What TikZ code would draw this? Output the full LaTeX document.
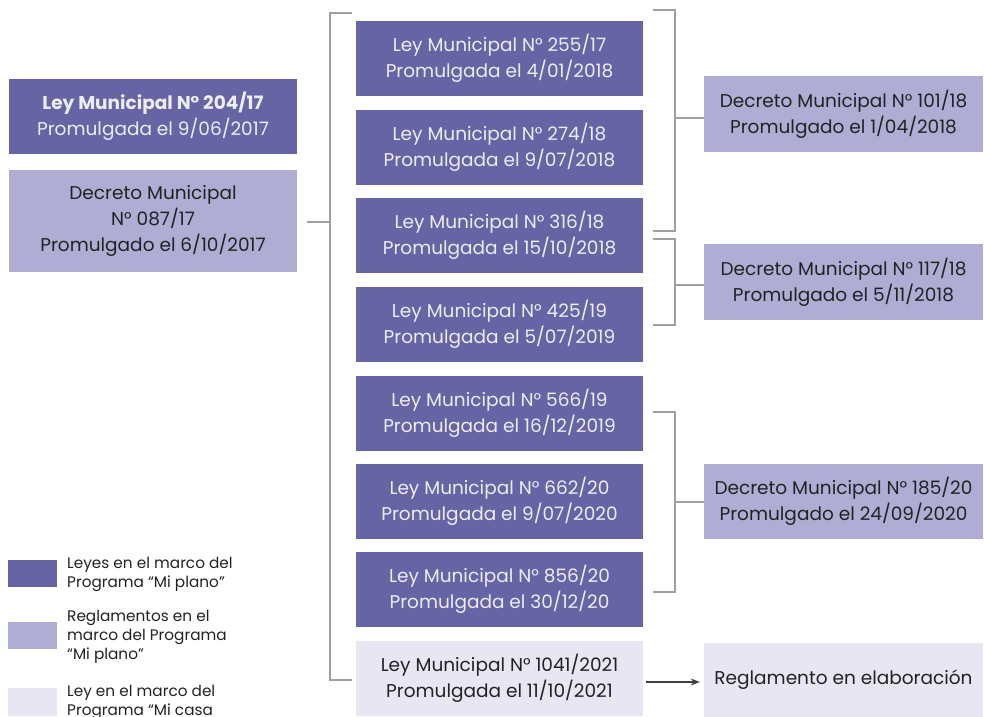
\documentclass[tikz,border=0pt]{standalone}
\usepackage{fontspec}
\setmainfont{Poppins}
\usetikzlibrary{arrows.meta}

\definecolor{leyes}{RGB}{102,100,164}
\definecolor{regla}{RGB}{175,173,212}
\definecolor{casa}{RGB}{232,230,243}
\definecolor{linea}{RGB}{160,160,160}
\definecolor{textoclaro}{RGB}{236,236,246}
\definecolor{textoosc}{RGB}{34,34,34}

\tikzset{
	caja/.style={rectangle, inner sep=0pt, align=center, font=\fontsize{18.5}{26}\selectfont},
	ley/.style={caja, fill=leyes, text=textoclaro, minimum width=287pt, minimum height=75pt},
	decreto/.style={caja, fill=regla, text=textoosc},
	enCasa/.style={caja, fill=casa, text=textoosc},
	llave/.style={draw=linea, line width=1.2pt},
	leyenda/.style={anchor=north west, inner sep=0pt, align=left, text=textoosc, font=\fontsize{15.3}{19}\selectfont}
}

\begin{document}
\begin{tikzpicture}[x=1pt, y=-1pt]
		\useasboundingbox (0,0) rectangle (984,716);
		\clip (0,0) rectangle (984,716);

		% columna izquierda
		\node [ley, minimum width=288pt] (l204) at (153,116.5) {\textbf{Ley Municipal N° 204/17}\\Promulgada el 9/06/2017};
		\node [decreto, minimum width=288pt, minimum height=102pt] (d087) at (153,221) {Decreto Municipal\\N° 087/17\\Promulgado el 6/10/2017};

		% columna central
		\node [ley] (l255) at (499.5,58.5) {Ley Municipal N° 255/17\\Promulgada el 4/01/2018};
		\node [ley] (l274) at (499.5,147.5) {Ley Municipal N° 274/18\\Promulgada el 9/07/2018};
		\node [ley] (l316) at (499.5,235.5) {Ley Municipal N° 316/18\\Promulgada el 15/10/2018};
		\node [ley] (l425) at (499.5,324.5) {Ley Municipal N° 425/19\\Promulgada el 5/07/2019};
		\node [ley] (l566) at (499.5,413) {Ley Municipal N° 566/19\\Promulgada el 16/12/2019};
		\node [ley] (l662) at (499.5,501.5) {Ley Municipal N° 662/20\\Promulgada el 9/07/2020};
		\node [ley] (l856) at (499.5,589.5) {Ley Municipal N° 856/20\\Promulgada el 30/12/20};
		\node [enCasa, minimum width=287pt, minimum height=75pt] (l1041) at (499.5,678.5) {Ley Municipal N° 1041/2021\\Promulgada el 11/10/2021};

		% columna derecha
		\node [decreto, minimum width=279pt, minimum height=76pt] (d101) at (843.5,114) {Decreto Municipal N° 101/18\\Promulgado el 1/04/2018};
		\node [decreto, minimum width=279pt, minimum height=76pt] (d117) at (843.5,282) {Decreto Municipal N° 117/18\\Promulgado el 5/11/2018};
		\node [decreto, minimum width=279pt, minimum height=75pt] (d185) at (843.5,501.5) {Decreto Municipal N° 185/20\\Promulgado el 24/09/2020};
		\node [enCasa, minimum width=279pt, minimum height=74pt] (regl) at (843.5,680) {Reglamento en elaboración};

		% llaves
		\coordinate (izqA) at (330,222);
		\draw [llave] (352,13) -| (330,680) -- (352,680);
		\draw [llave] (d087.east -| 307,0) ++(0,1) -- (izqA);
		\coordinate (derA) at (675,118);
		\draw [llave] (653,10) -| (675,231) -- (653,231);
		\draw [llave] (derA) -- (d101.west |- derA);
		\coordinate (derB) at (675,285);
		\draw [llave] (653,239) -| (675,325) -- (653,325);
		\draw [llave] (derB) -- (d117.west |- derB);
		\coordinate (derC) at (675,502);
		\draw [llave] (653,412) -| (675,592) -- (653,592);
		\draw [llave] (derC) -- (d185.west |- derC);

		\draw [draw=black!75, line width=1.2pt, -{Stealth[length=9pt, width=7pt]}] ([xshift=3pt]l1041.east |- 0,682) -- ([xshift=-4pt]regl.west |- 0,682);

		% referencias
		\fill [leyes] (8,560) rectangle (57,587);
		\node [leyenda] (refLeyes) at (67,557) {Leyes en el marco del\\Programa “Mi plano”};
		\fill [regla] (8,622) rectangle (57,649);
		\node [leyenda] (refRegla) at (67,610) {Reglamentos en el\\marco del Programa\\“Mi plano”};
		\fill [casa] (8,688) rectangle (57,716);
		\node [leyenda] (refCasa) at (67,685) {Ley en el marco del\\Programa “Mi casa};
	\end{tikzpicture}
\end{document}
